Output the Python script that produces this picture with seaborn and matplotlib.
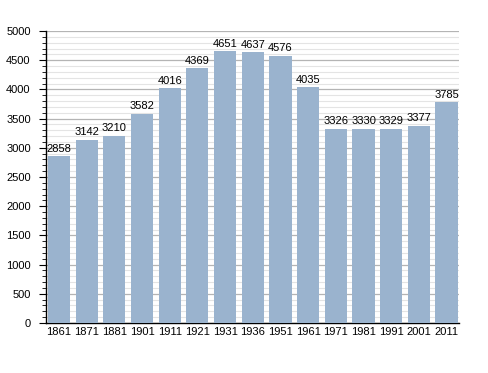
import numpy as np
import pandas as pd
import matplotlib
matplotlib.use('Agg')
import matplotlib.pyplot as plt
import seaborn as sns
from matplotlib.ticker import MultipleLocator

years = ['1861', '1871', '1881', '1901', '1911', '1921', '1931', '1936',
         '1951', '1961', '1971', '1981', '1991', '2001', '2011']
population = [2858, 3142, 3210, 3582, 4016, 4369, 4651, 4637,
              4576, 4035, 3326, 3330, 3329, 3377, 3785]

df = pd.DataFrame({'year': years, 'pop': population})

sns.set_style('white')
plt.rcParams['font.family'] = ['Liberation Sans', 'DejaVu Sans']

fig = plt.figure(figsize=(4.88, 3.73), dpi=100)
ax = fig.add_axes([46 / 488, 50 / 373, 413 / 488, 292 / 373])

sns.barplot(data=df, x='year', y='pop', color='#9ab3ce', saturation=1,
            width=0.8, linewidth=0, ax=ax, zorder=3)

ax.set_xlim(-0.47, 14.45)
ax.set_ylim(0, 5000)
ax.yaxis.set_major_locator(MultipleLocator(500))
ax.yaxis.set_minor_locator(MultipleLocator(100))
ax.grid(which='minor', axis='y', color='#e4e4e4', linewidth=0.8, zorder=0)
ax.grid(which='major', axis='y', color='#b4b4b4', linewidth=0.9, zorder=0)
ax.set_axisbelow(True)

for i, v in enumerate(population):
    ax.text(i, v + 40, str(v), ha='center', va='bottom', fontsize=8,
            color='black', zorder=4)

ax.set_xlabel('')
ax.set_ylabel('')
for s in ['top', 'right']:
    ax.spines[s].set_visible(False)
ax.spines['left'].set_color('black')
ax.spines['bottom'].set_color('black')
ax.spines['left'].set_linewidth(1)
ax.spines['bottom'].set_linewidth(1)
ax.tick_params(axis='y', which='major', length=5, width=0.8, left=True,
               labelsize=8, labelcolor='black', color='black', pad=6)
ax.tick_params(axis='y', which='minor', length=3, width=0.6, left=True, color='black')
ax.tick_params(axis='x', length=0, labelsize=8, labelcolor='black', pad=3)

fig.savefig('out.png', dpi=100)
